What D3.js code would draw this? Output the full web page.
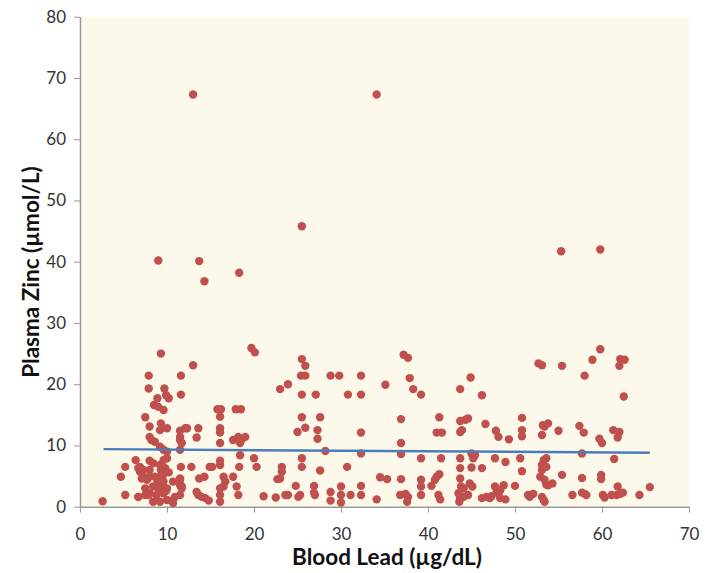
<!DOCTYPE html>
<html lang="en">
<head>
<meta charset="utf-8">
<title>blood lead vs plasma zinc</title>
<script src="https://d3js.org/d3.v7.min.js"></script>
<style>
  body{margin:0;background:#fff;font-family:Lato, "Open Sans", sans-serif;}
  .axis path,.axis line{stroke:#999;}
  .axis text{font-family:Lato, sans-serif;font-size:17px;fill:#333;}
  .title{font-family:Lato, sans-serif;font-weight:bold;font-size:22.5px;fill:#111;}
</style>
</head>
<body>
<div id="chart"></div>
<script>
// values, blood lead (µg/dL) and plasma zinc (µmol/L)
var bloodLead = [
  13.0,34.1,25.5,9.0,13.7,14.3,18.3,55.3,59.8,
  9.3,13.0,7.9,11.6,7.9,9.7,11.6,8.9,9.9,10.2,8.5,9.0,9.6,7.5,15.8,16.2,17.9,16.1,9.3,8.0,9.2,10.0,11.5,12.1,12.3,13.6,16.1,16.1,13.4,11.5,11.5,11.7,8.0,8.2,8.6,16.1,18.3,9.2,9.6,10.0,11.5,10.0,6.4,8.0,8.4,16.1,16.1,5.2,6.9,11.6,12.8,14.9,15.2,18.3,4.7,6.9,7.3,7.7,11.5,11.5,11.7,13.7,14.3,16.5,16.7,16.5,17.6,16.1,16.1,16.1,5.2,6.7,7.5,8.0,10.7,11.5,13.4,13.6,14.0,14.4,14.8,2.6,18.0,18.2,17.6,18.2,
  6.7,7.3,8.0,9.2,9.6,9.8,7.1,8.0,8.6,9.4,9.0,9.6,10.7,11.5,7.5,8.4,9.2,10.0,11.7,6.7,7.9,8.8,9.6,10.9,9.2,10.0,8.4,10.7,9.1,9.5,9.3,9.9,8.9,10.2,
  19.7,20.1,25.5,25.9,25.4,25.9,28.8,29.8,32.3,23.9,23.0,35.1,25.5,27.1,30.8,32.3,18.5,25.5,27.6,25.9,25.0,27.3,27.3,32.3,19.0,18.6,18.4,28.2,32.3,18.4,20.0,25.5,20.3,23.2,23.2,23.0,22.7,25.5,27.6,30.7,34.5,35.3,24.8,26.9,26.9,27.0,30.0,30.0,30.0,32.3,32.3,28.8,28.8,31.1,21.1,22.5,23.6,23.9,25.1,25.3,34.1,
  37.2,37.7,52.7,53.1,37.9,44.9,38.3,39.2,43.7,46.2,36.9,41.3,43.7,44.3,44.6,46.6,50.8,41.0,41.6,43.7,43.9,47.8,48.1,49.3,50.8,50.8,53.2,53.4,53.8,53.1,36.9,36.9,39.2,41.5,43.7,45.0,45.2,45.4,47.7,48.9,50.6,53.3,53.1,53.1,52.9,53.6,53.6,53.4,53.6,43.7,43.7,43.8,44.1,45.0,46.2,50.8,36.9,39.2,39.2,39.2,41.0,41.3,40.4,40.8,44.8,45.1,50.0,36.8,37.4,37.7,37.6,41.2,41.4,43.5,43.7,44.1,44.6,43.6,46.2,46.7,47.3,47.7,47.9,48.1,48.3,48.7,48.3,48.9,47.1,51.5,52.1,51.7,53.1,53.4,
  59.8,58.9,62.1,62.6,62.0,55.4,58.0,62.5,55.0,57.4,57.9,59.7,60.0,61.3,62.0,61.8,57.7,61.4,55.4,57.7,59.9,59.9,53.8,54.3,61.8,65.5,56.6,57.7,58.0,58.2,60.1,60.3,61.1,61.7,62.4,62.1,64.3,53.3
];
var plasmaZinc = [
  67.3,67.3,45.8,40.2,40.1,36.8,38.2,41.7,42.0,
  25.0,23.1,21.4,21.4,19.3,19.3,18.3,17.7,18.2,17.7,16.6,16.3,15.8,14.6,15.9,15.9,15.9,14.7,13.6,13.1,12.5,12.8,12.4,12.8,12.8,12.8,12.8,12.1,11.3,11.4,10.9,10.4,11.4,10.9,10.6,10.4,10.9,9.8,9.3,9.0,9.3,7.9,7.6,7.5,7.1,7.5,6.8,6.5,6.5,6.5,6.5,6.5,6.5,6.5,4.9,5.7,4.9,4.4,4.6,3.5,3.0,4.6,4.9,4.9,4.1,3.3,4.9,3.0,1.9,0.8,1.9,1.6,1.9,2.2,1.1,1.9,2.4,1.9,1.6,1.4,1.0,0.9,3.3,1.9,10.9,11.4,
  6.3,6.0,6.0,6.8,7.6,6.3,4.6,4.9,4.9,5.4,4.6,4.1,4.1,4.4,3.0,3.3,3.5,3.0,3.3,1.6,1.9,1.9,2.2,1.6,0.8,1.1,0.8,0.6,2.6,5.0,6.0,2.6,3.9,5.6,
  25.9,25.2,24.1,23.0,21.4,21.4,21.4,21.4,21.4,20.0,19.2,19.9,18.3,18.3,18.3,18.3,15.9,14.6,14.6,12.9,12.2,12.5,11.1,12.1,11.4,11.0,10.4,9.1,8.7,8.4,7.9,7.9,6.5,6.5,5.7,4.6,4.5,6.5,5.9,6.5,4.8,4.5,3.4,3.4,2.3,1.9,3.3,1.9,0.7,3.4,1.9,2.4,1.0,1.9,1.7,1.5,1.9,1.9,1.6,1.9,1.2,
  24.8,24.3,23.4,23.1,21.0,21.1,19.2,18.3,19.2,18.2,14.3,14.6,14.0,14.2,14.4,13.5,14.5,12.1,12.1,12.2,12.5,12.4,11.4,11.0,12.5,11.5,13.3,13.1,13.6,11.7,10.4,8.6,7.9,7.9,7.9,8.7,7.9,8.4,7.9,7.3,7.9,7.6,6.8,6.0,4.9,7.9,6.5,4.4,3.6,6.3,4.6,3.3,3.0,6.4,6.3,5.8,4.5,4.4,3.3,1.9,4.9,5.3,3.4,4.4,3.8,3.3,3.4,1.9,2.1,1.6,0.8,1.9,1.2,2.2,1.4,1.6,1.9,0.8,1.4,1.6,1.7,3.3,2.4,2.2,2.7,3.5,1.4,1.2,1.4,1.9,2.1,1.6,1.6,0.8,
  25.7,24.0,24.1,24.0,23.0,23.0,21.4,18.0,12.4,13.2,12.1,11.1,10.4,12.5,12.2,11.3,8.7,7.8,5.2,4.7,5.2,4.5,3.5,3.8,3.3,3.2,1.9,2.3,2.1,1.9,1.9,1.5,1.9,1.9,2.3,2.1,1.9,1.1
];
// fitted line, end points
var trendLead = [2.7, 65.5];
var trendZinc = [9.4, 8.8];
var xTicks = [0,10,20,30,40,50,60,70];
var yTicks = [0,10,20,30,40,50,60,70,80];

var w = 705, h = 573;
var m = {left:80, top:16.7, right:16, bottom:66};

var svg = d3.select("#chart").append("svg")
    .attr("width", w)
    .attr("height", h);

var xScale = d3.scaleLinear().domain([0,70]).range([m.left, 689]);
var yScale = d3.scaleLinear().domain([0,80]).range([506.7, m.top]);

// plot background
svg.append("rect")
    .attr("x", xScale(0))
    .attr("y", yScale(80))
    .attr("width", xScale(70)-xScale(0))
    .attr("height", yScale(0)-yScale(80))
    .attr("fill", "#fcf9ea");

svg.append("g")
    .attr("class","axis")
    .attr("transform","translate(0,"+yScale(0)+")")
    .call(d3.axisBottom(xScale).tickValues(xTicks).tickSize(6).tickSizeOuter(0).tickPadding(15));

svg.append("g")
    .attr("class","axis")
    .attr("transform","translate("+xScale(0)+",0)")
    .call(d3.axisLeft(yScale).tickValues(yTicks).tickSize(6).tickSizeOuter(0).tickPadding(8));

svg.selectAll(".axis path").attr("stroke-width",1.5);

var pts = bloodLead.map(function(d,i){ return [d, plasmaZinc[i]]; });

svg.selectAll("circle.pt")
    .data(pts)
    .enter()
    .append("circle")
    .attr("class","pt")
    .attr("cx", function(d){ return xScale(d[0]); })
    .attr("cy", function(d){ return yScale(d[1]); })
    .attr("r", 4.2)
    .attr("fill", "#c0504d");

svg.append("line")
    .attr("x1", xScale(trendLead[0]))
    .attr("y1", yScale(trendZinc[0]))
    .attr("x2", xScale(trendLead[1]))
    .attr("y2", yScale(trendZinc[1]))
    .attr("stroke", "#4a7ebb")
    .attr("stroke-width", 2.5);

svg.append("text")
    .attr("class","title")
    .attr("x", 387)
    .attr("y", 565)
    .attr("text-anchor","middle")
    .text("Blood Lead (µg/dL)");

svg.append("text")
    .attr("class","title")
    .attr("transform","translate(39,272) rotate(-90)")
    .attr("text-anchor","middle")
    .text("Plasma Zinc (µmol/L)");
</script>
</body>
</html>
